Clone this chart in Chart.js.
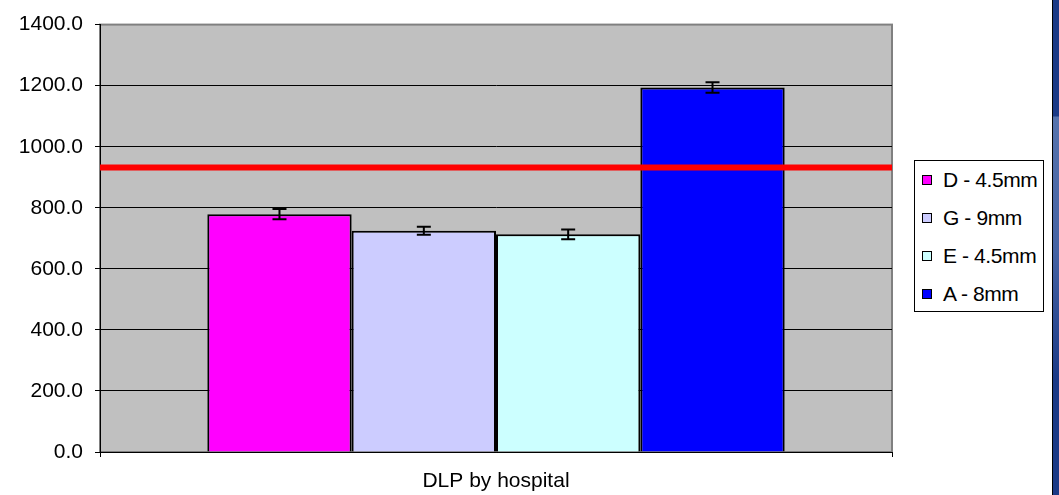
<!DOCTYPE html>
<html>
<head>
<meta charset="utf-8">
<script src="https://cdn.jsdelivr.net/npm/chart.js@4"></script>
<style>
  html, body { margin: 0; padding: 0; background: #fff; }
  #wrap { position: relative; width: 1059px; height: 495px; overflow: hidden; font-family: Arial, "Liberation Sans", sans-serif; }
  #box { position: absolute; left: 0; top: 0; width: 1052px; height: 495px; }
  #strip {
    position: absolute; left: 1052px; top: 0; width: 7px; height: 495px;
    border-left: 1px solid #000; box-sizing: border-box;
    background: linear-gradient(to bottom, #1b3a86 0px, #1b3a86 116px, #5673ad 117px, #4663a3 250px, #1b3a86 380px, #1b3a86 495px);
  }
  #legend {
    position: absolute; left: 914px; top: 160px; width: 130px; height: 152px;
    border: 1px solid #000; box-sizing: border-box; background: #fff;
  }
  #legend .item { height: 38px; line-height: 38px; font-size: 21px; letter-spacing: -0.4px; color: #000; white-space: nowrap; padding-left: 7px; }
  #legend .sw { display: inline-block; width: 10px; height: 10px; border: 1px solid #000; box-sizing: border-box; margin-right: 11px; vertical-align: middle; position: relative; top: -1px; }
</style>
</head>
<body>
<div id="wrap">
  <div id="box"><canvas id="chart"></canvas></div>
  <div id="legend"></div>
  <div id="strip"></div>
</div>
<script>
const categories = ["DLP by hospital"];
const hospitals = ["D - 4.5mm", "G - 9mm", "E - 4.5mm", "A - 8mm"];
const dlpValues = [779, 725, 713, 1194];
const dlpErrors = [17, 13, 16, 17];
const barColors = ["#ff00ff", "#ccccff", "#ccffff", "#0000ff"];
const referenceLevel = 932;
const yTicks = [0, 200, 400, 600, 800, 1000, 1200, 1400];

const FONT = "Arial, 'Liberation Sans', sans-serif";

const plotBackground = {
  id: "plotBackground",
  beforeDraw(chart) {
    const { ctx, chartArea: a } = chart;
    ctx.save();
    ctx.fillStyle = "#c0c0c0";
    ctx.fillRect(a.left, a.top, a.right - a.left, a.bottom - a.top);
    ctx.strokeStyle = "#808080";
    ctx.lineWidth = 2;
    ctx.strokeRect(a.left, a.top, a.right - a.left, a.bottom - a.top);
    ctx.restore();
  }
};

const errorBarsAndLine = {
  id: "errorBarsAndLine",
  afterDatasetsDraw(chart) {
    const { ctx, chartArea: a } = chart;
    const y = chart.scales.y;
    ctx.save();
    ctx.strokeStyle = "#000";
    ctx.lineWidth = 2;
    chart.data.datasets.forEach((ds, i) => {
      const bar = chart.getDatasetMeta(i).data[0];
      const v = ds.data[0], e = dlpErrors[i];
      const top = y.getPixelForValue(v + e), bot = y.getPixelForValue(v - e);
      ctx.beginPath();
      ctx.moveTo(bar.x, top); ctx.lineTo(bar.x, bot);
      ctx.moveTo(bar.x - 7, top); ctx.lineTo(bar.x + 7, top);
      ctx.moveTo(bar.x - 7, bot); ctx.lineTo(bar.x + 7, bot);
      ctx.stroke();
    });
    // reference level line across the plot
    const ry = y.getPixelForValue(referenceLevel);
    ctx.strokeStyle = "#ff0000";
    ctx.lineWidth = 6;
    ctx.beginPath();
    ctx.moveTo(a.left, ry); ctx.lineTo(a.right, ry);
    ctx.stroke();
    ctx.restore();
  }
};

const datasets = hospitals.map((name, i) => ({
  label: name,
  data: [dlpValues[i]],
  backgroundColor: barColors[i],
  borderColor: "#000",
  borderWidth: 2,
  categoryPercentage: 0.729,
  barPercentage: 1.0
}));

// legend built from the same arrays
const legendEl = document.getElementById("legend");
hospitals.forEach((name, i) => {
  const row = document.createElement("div");
  row.className = "item";
  const sw = document.createElement("span");
  sw.className = "sw";
  sw.style.background = barColors[i];
  row.appendChild(sw);
  row.appendChild(document.createTextNode(name));
  legendEl.appendChild(row);
});

new Chart(document.getElementById("chart"), {
  type: "bar",
  data: { labels: categories, datasets },
  options: {
    responsive: true,
    maintainAspectRatio: false,
    animation: false,
    layout: { padding: { top: 8, right: 160, bottom: 0, left: 0 } },
    plugins: {
      tooltip: { enabled: false },
      legend: { display: false }
    },
    scales: {
      x: {
        afterFit(scale) { scale.height = 43; },
        grid: { drawOnChartArea: false, color: "#000", tickLength: 5 },
        border: { color: "#000", width: 1 },
        ticks: { color: "#000", font: { family: FONT, size: 21 }, padding: 12 }
      },
      y: {
        min: 0,
        max: 1400,
        afterBuildTicks(scale) { scale.ticks = yTicks.map(v => ({ value: v })); },
        afterFit(scale) { scale.width = 100; },
        grid: {
          color: ctx => ctx.tick && ctx.tick.value === 1400 ? "rgba(0,0,0,0)" : "#000",
          tickColor: "#000",
          tickLength: 5
        },
        border: { color: "#000", width: 1 },
        ticks: {
          color: "#000",
          font: { family: FONT, size: 21 },
          padding: 12,
          callback: v => v.toFixed(1)
        }
      }
    }
  },
  plugins: [plotBackground, errorBarsAndLine]
});
</script>
</body>
</html>
